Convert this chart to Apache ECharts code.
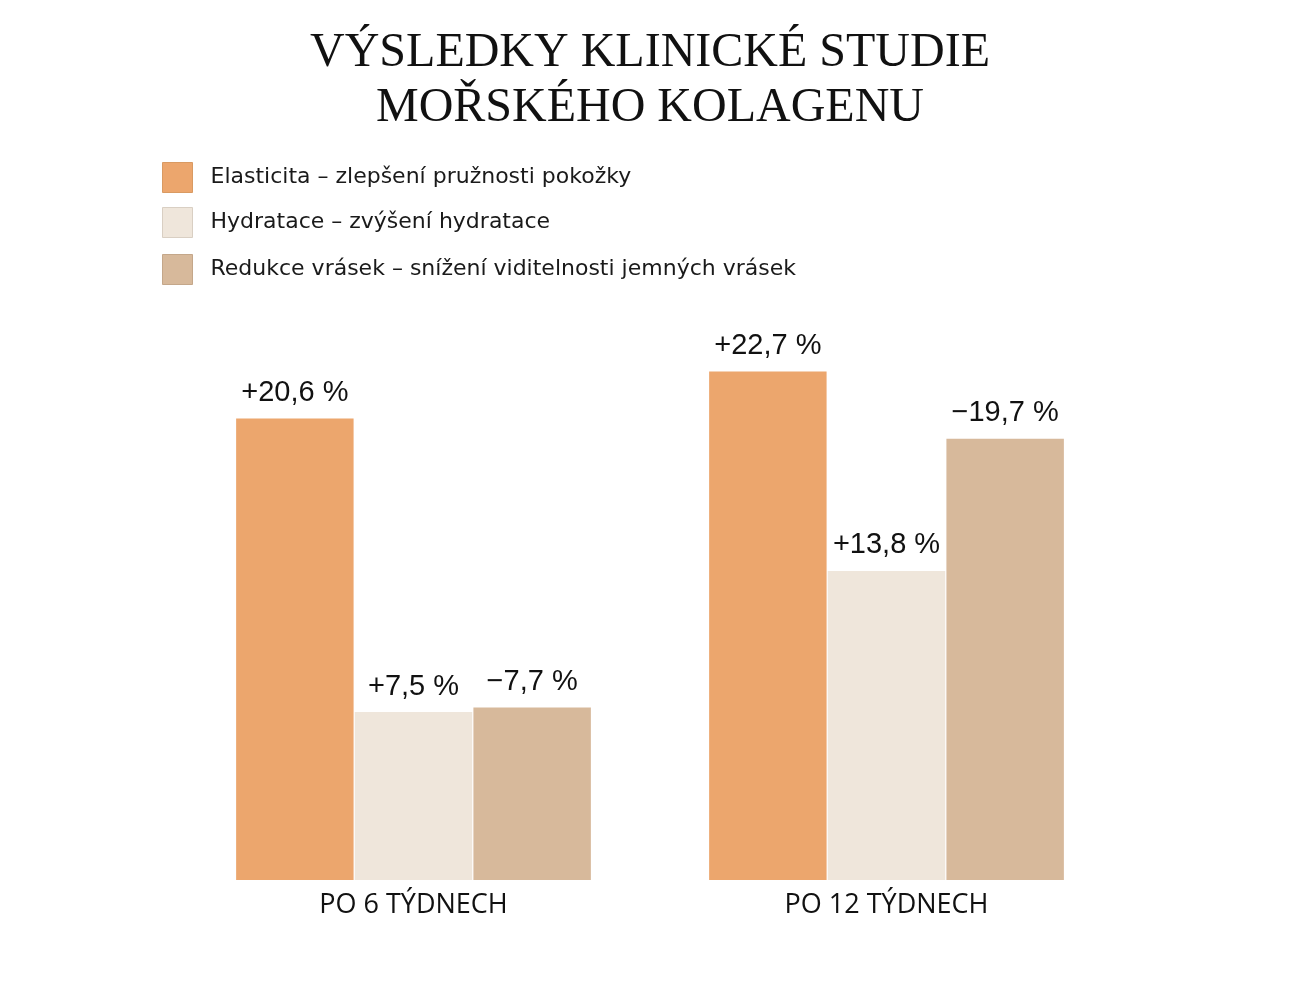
<!DOCTYPE html>
<html>
<head>
<meta charset="utf-8">
<script src="https://cdn.jsdelivr.net/npm/echarts@6/dist/echarts.min.js"></script>
<style>html,body{margin:0;padding:0;background:#fff}#c{width:1300px;height:1000px}</style>
</head>
<body>
<div id="c"></div>
<script>
var categories = ['PO 6 TÝDNECH', 'PO 12 TÝDNECH'];
var seriesNames = [
  'Elasticita – zlepšení pružnosti pokožky',
  'Hydratace – zvýšení hydratace',
  'Redukce vrásek – snížení viditelnosti jemných vrásek'
];
var elasticita = [20.6, 22.7];
var hydratace = [7.5, 13.8];
var redukce = [7.7, 19.7];
var labelSigns = [['+', '+'], ['+', '+'], ['−', '−']];
var colors = ['#ECA66D', '#EFE6DB', '#D7B99B'];
var borderColors = ['#D99A62', '#D9CFC3', '#C4A78A'];

var values = [elasticita, hydratace, redukce];
var legendTops = [157, 202, 249];

var chart = echarts.init(document.getElementById('c'));
var option = {
  backgroundColor: '#ffffff',
  animation: false,
  title: {
    text: 'VÝSLEDKY KLINICKÉ STUDIE\nMOŘSKÉHO KOLAGENU',
    left: 'center',
    top: 21,
    textStyle: {
      fontFamily: 'Liberation Serif',
      fontSize: 48,
      fontWeight: 'normal',
      lineHeight: 55,
      color: '#111111',
      align: 'center'
    }
  },
  legend: seriesNames.map(function (n, i) {
    return {
      data: [n],
      left: 157,
      top: legendTops[i],
      orient: 'vertical',
      icon: 'rect',
      itemWidth: 30,
      itemHeight: 30,
      itemStyle: { borderColor: borderColors[i], borderWidth: 1 },
      selectedMode: false,
      textStyle: {
        fontFamily: 'DejaVu Sans',
        fontSize: 22,
        color: '#1a1a1a',
        padding: [0, 0, 0, 13]
      }
    };
  }),
  grid: { left: 177, right: 177, top: 320, bottom: 120 },
  xAxis: {
    type: 'category',
    data: categories,
    axisLine: { show: false },
    axisTick: { show: false },
    axisLabel: {
      fontFamily: 'Open Sans',
      fontSize: 27,
      color: '#111111',
      margin: 12
    }
  },
  yAxis: { type: 'value', min: 0, max: 25, show: false, splitLine: { show: false } },
  series: seriesNames.map(function (n, i) {
    return {
      name: n,
      type: 'bar',
      data: values[i],
      barGap: '1%',
      barCategoryGap: '25%',
      itemStyle: { color: colors[i] },
      label: {
        show: true,
        position: 'top',
        distance: 11,
        fontFamily: 'Liberation Sans',
        fontSize: 29,
        color: '#111111',
        formatter: function (p) {
          return labelSigns[i][p.dataIndex] + String(p.value).replace('.', ',') + ' %';
        }
      }
    };
  })
};
chart.setOption(option);
</script>
</body>
</html>
